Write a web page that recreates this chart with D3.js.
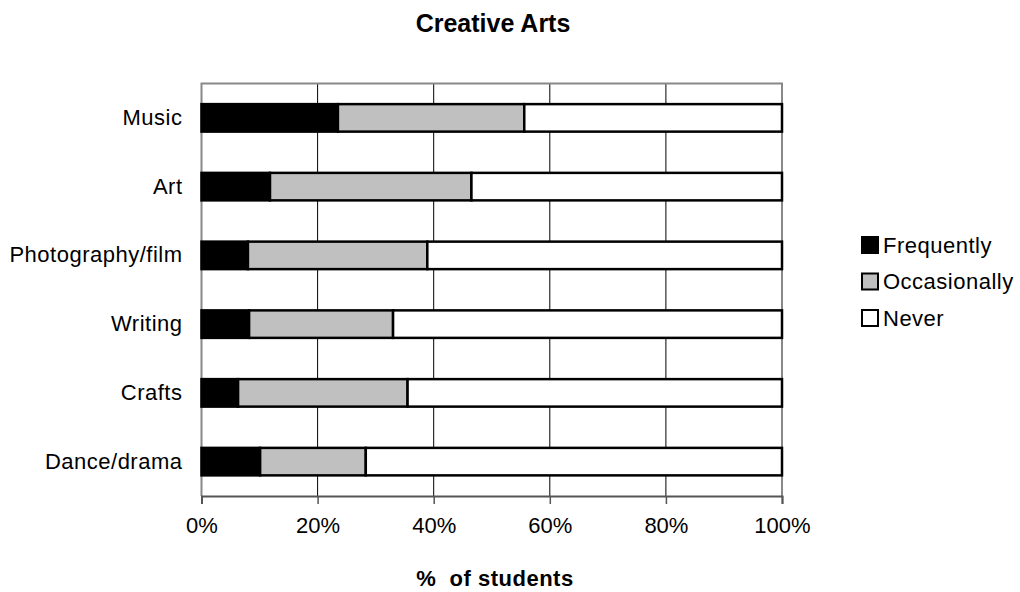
<!DOCTYPE html>
<html>
<head>
<meta charset="utf-8">
<script src="https://cdn.jsdelivr.net/npm/d3@7"></script>
<style>
  body { margin: 0; background: #fff; }
  text { font-family: "Liberation Sans", Arial, sans-serif; fill: #000; }
</style>
</head>
<body>
<svg id="chart" width="1020" height="592"></svg>
<script>
// data (percent of students)
var categories = ['Music', 'Art', 'Photography/film', 'Writing', 'Crafts', 'Dance/drama']
var frequently = [23.5, 11.8, 8.0, 8.2, 6.3, 10.1]
var occasionally = [32.1, 34.7, 30.9, 24.8, 29.2, 18.2]
var never = [44.4, 53.5, 61.1, 67.0, 64.5, 71.7]
var seriesNames = ['Frequently', 'Occasionally', 'Never']
var seriesColors = ['#000000', '#c0c0c0', '#ffffff']
var xTicks = [0, 20, 40, 60, 80, 100]

var margin = { top: 83.5, left: 201.5, right: 238, bottom: 96 }
var svg = d3.select('#chart')
var width = 1020 - margin.left - margin.right
var height = 592 - margin.top - margin.bottom

var rows = categories.map(function (c, i) {
  return { cat: c, Frequently: frequently[i], Occasionally: occasionally[i], Never: never[i] }
})
var stacked = d3.stack().keys(seriesNames)(rows)

var x = d3.scaleLinear().domain([0, 100]).range([0, width])
var y = d3.scaleBand().domain(categories).range([0, height])
  .paddingInner(0.6).paddingOuter(0.3)
var color = d3.scaleOrdinal().domain(seriesNames).range(seriesColors)

var g = svg.append('g')
  .attr('transform', 'translate(' + margin.left + ',' + margin.top + ')')

// gridlines
g.append('g')
  .selectAll('line')
  .data(xTicks.slice(1, -1))
  .enter()
  .append('line')
  .attr('x1', function (d) { return x(d) })
  .attr('x2', function (d) { return x(d) })
  .attr('y1', 0)
  .attr('y2', height)
  .attr('stroke', '#000')
  .attr('stroke-width', 1)

// frame (top, left, right)
g.append('path')
  .attr('d', 'M0,' + height + 'V0H' + width + 'V' + height)
  .attr('fill', 'none')
  .attr('stroke', '#888')
  .attr('stroke-width', 2)

// bars
g.append('g')
  .selectAll('g')
  .data(stacked)
  .enter()
  .append('g')
  .attr('fill', function (d) { return color(d.key) })
  .selectAll('rect')
  .data(function (d) { return d })
  .enter()
  .append('rect')
  .attr('x', function (d) { return x(d[0]) })
  .attr('y', function (d) { return y(d.data.cat) })
  .attr('width', function (d) { return x(d[1]) - x(d[0]) })
  .attr('height', y.bandwidth())
  .attr('stroke', '#000')
  .attr('stroke-width', 2.5)

// x axis
var xAxis = g.append('g')
  .attr('transform', 'translate(0,' + height + ')')
  .call(d3.axisBottom(x).tickValues(xTicks).tickSize(8).tickPadding(13)
    .tickFormat(function (d) { return d + '%' }))
xAxis.select('.domain').attr('stroke', '#555').attr('stroke-width', 2)
xAxis.selectAll('.tick line').attr('stroke', '#555').attr('stroke-width', 1.5)
xAxis.selectAll('.tick text').style('font-size', '22px').attr('fill', '#000')
xAxis.attr('font-family', null)

// y labels
var yAxis = g.append('g')
  .call(d3.axisLeft(y).tickSize(0).tickPadding(19))
yAxis.select('.domain').remove()
yAxis.selectAll('.tick text')
  .style('font-size', '22px')
  .style('letter-spacing', '0.5px')
  .attr('fill', '#000')
yAxis.attr('font-family', null)

// title
svg.append('text')
  .attr('x', 493)
  .attr('y', 32)
  .attr('text-anchor', 'middle')
  .style('font-size', '25px')
  .style('font-weight', 'bold')
  .text('Creative Arts')

// x axis title
svg.append('text')
  .attr('x', 495)
  .attr('y', 586)
  .attr('text-anchor', 'middle')
  .style('font-size', '22px')
  .style('font-weight', 'bold')
  .style('letter-spacing', '0.5px')
  .style('white-space', 'pre')
  .text('%  of students')

// legend
var legend = svg.append('g').attr('transform', 'translate(862,237)')
var items = legend.selectAll('g')
  .data(seriesNames)
  .enter()
  .append('g')
  .attr('transform', function (d, i) { return 'translate(0,' + i * 36.5 + ')' })
items.append('rect')
  .attr('width', 16)
  .attr('height', 16)
  .attr('fill', function (d) { return color(d) })
  .attr('stroke', '#000')
  .attr('stroke-width', 2)
items.append('text')
  .attr('x', 21)
  .attr('y', 8)
  .attr('dy', '0.35em')
  .style('font-size', '22px')
  .style('letter-spacing', '0.5px')
  .text(function (d) { return d })
</script>
</body>
</html>
